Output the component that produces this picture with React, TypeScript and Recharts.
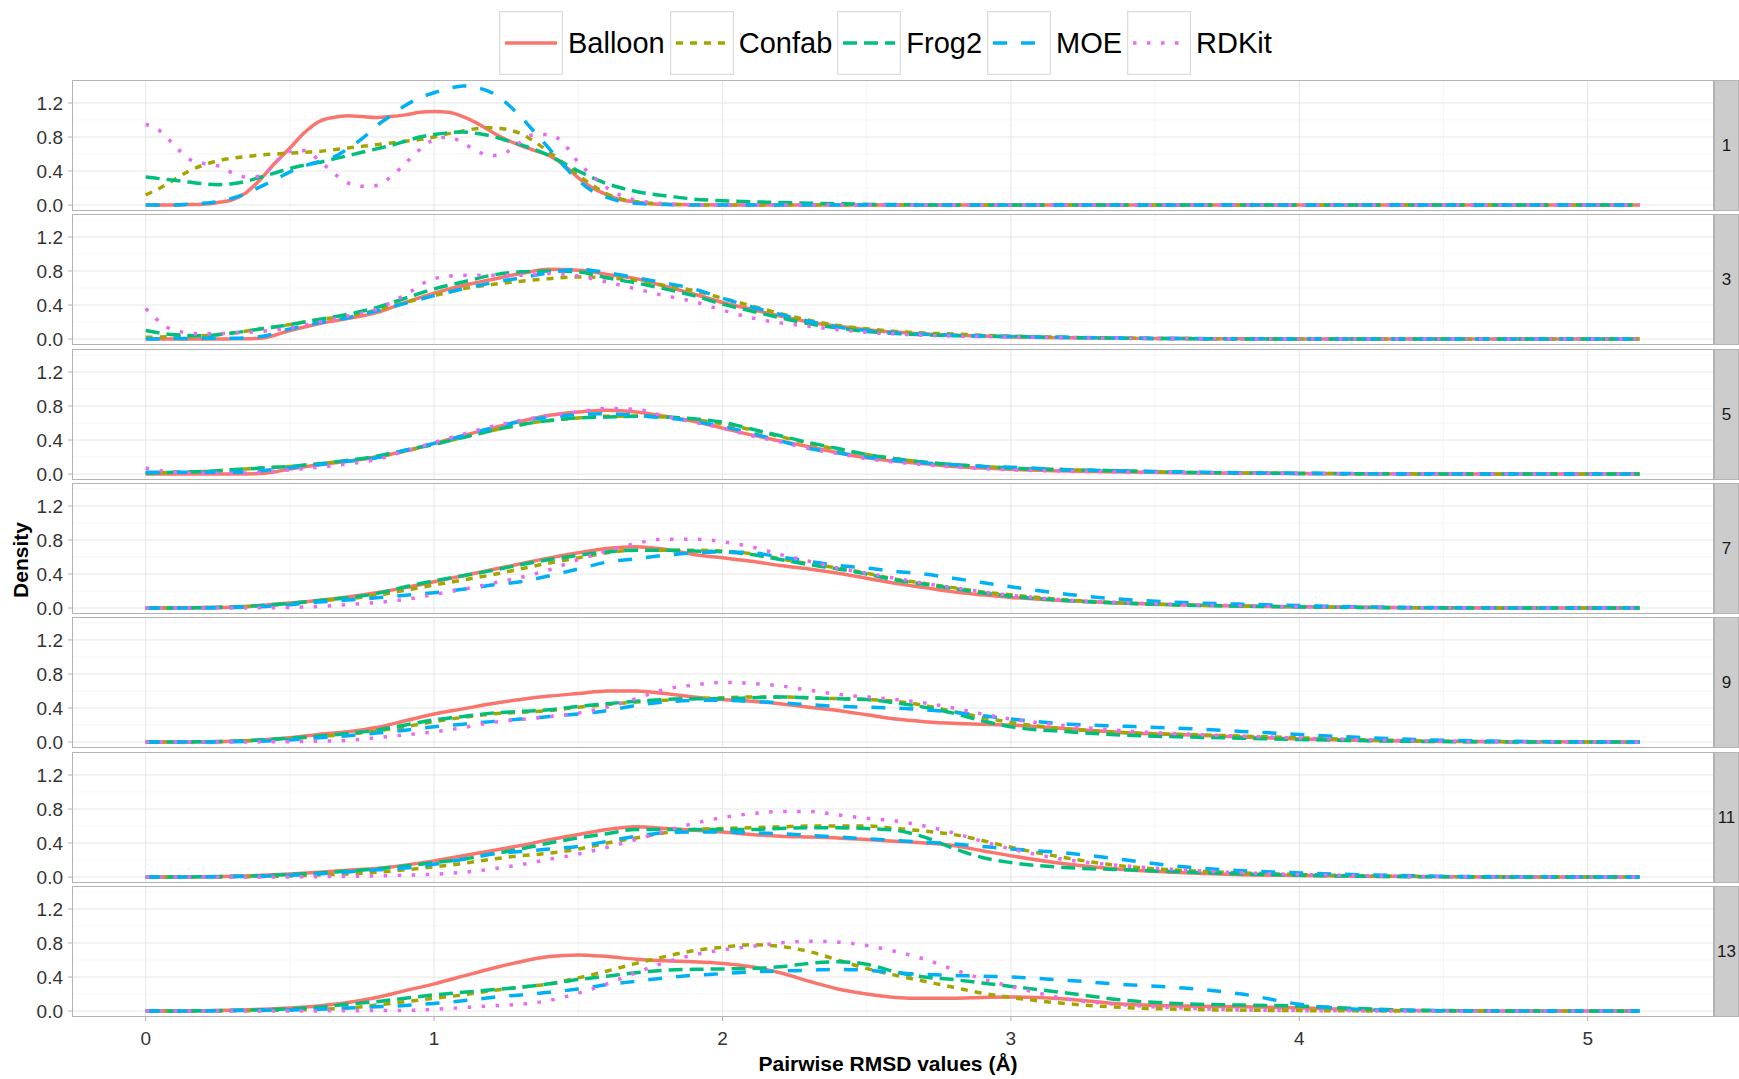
import React from "react";
import { LineChart, Line, XAxis, YAxis, CartesianGrid } from "recharts";

// ---------- DATA ----------
const seriesNames = ["Balloon", "Confab", "Frog2", "MOE", "RDKit"];
const facetLabels = ["1", "3", "5", "7", "9", "11", "13"];
const xTicks = [0, 1, 2, 3, 4, 5];
const yTicks = [0, 0.4, 0.8, 1.2];
const xMinor = [0.5, 1.5, 2.5, 3.5, 4.5];
const yMinor = [0.2, 0.6, 1.0, 1.4];
const xAxisTitle = "Pairwise RMSD values (Å)";
const yAxisTitle = "Density";

// x grid for facet "1" (finer)
const xFine = [
  0, 0.05, 0.1, 0.15, 0.2, 0.25, 0.3, 0.35, 0.4, 0.45, 0.5, 0.55, 0.6, 0.65, 0.7, 0.75, 0.8, 0.85, 0.9, 0.95,
  1.0, 1.05, 1.1, 1.15, 1.2, 1.25, 1.3, 1.35, 1.4, 1.45, 1.5, 1.55, 1.6, 1.65, 1.7, 1.75, 1.8,
  1.9, 2.0, 2.2, 2.4, 2.6, 2.8, 3.0, 4.0, 5.18,
];
// x grid for the other facets
const xCoarse = [
  0, 0.1, 0.2, 0.3, 0.4, 0.5, 0.6, 0.7, 0.8, 0.9, 1.0, 1.1, 1.2, 1.3, 1.4, 1.5, 1.6, 1.7, 1.8, 1.9,
  2.0, 2.1, 2.2, 2.3, 2.4, 2.5, 2.6, 2.7, 2.8, 2.9, 3.0,
  3.2, 3.4, 3.6, 3.8, 4.0, 4.2, 4.4, 4.7, 5.18,
];

// facet 1
const balloon1 = [0, 0, 0, 0.005, 0.01, 0.03, 0.06, 0.15, 0.31, 0.5, 0.67, 0.85, 0.98, 1.03, 1.05, 1.04, 1.03, 1.04, 1.06, 1.09, 1.1, 1.09, 1.04, 0.96, 0.86, 0.77, 0.7, 0.64, 0.58, 0.47, 0.32, 0.2, 0.12, 0.06, 0.035, 0.015, 0.008, 0.003, 0, 0, 0, 0, 0, 0, 0, 0];
const confab1 = [0.12, 0.2, 0.3, 0.4, 0.47, 0.52, 0.55, 0.57, 0.59, 0.6, 0.61, 0.62, 0.63, 0.65, 0.67, 0.69, 0.71, 0.73, 0.75, 0.77, 0.8, 0.84, 0.87, 0.9, 0.91, 0.89, 0.84, 0.74, 0.62, 0.49, 0.35, 0.23, 0.13, 0.07, 0.04, 0.02, 0.01, 0.003, 0, 0, 0, 0, 0, 0, 0, 0];
const frog1 = [0.33, 0.31, 0.29, 0.27, 0.25, 0.24, 0.25, 0.28, 0.33, 0.38, 0.43, 0.47, 0.5, 0.54, 0.58, 0.62, 0.66, 0.7, 0.75, 0.8, 0.83, 0.85, 0.86, 0.84, 0.81, 0.76, 0.71, 0.65, 0.58, 0.49, 0.4, 0.32, 0.25, 0.2, 0.16, 0.13, 0.11, 0.07, 0.05, 0.03, 0.015, 0.005, 0, 0, 0, 0];
const moe1 = [0, 0, 0, 0.01, 0.02, 0.04, 0.08, 0.14, 0.22, 0.3, 0.39, 0.46, 0.51, 0.56, 0.66, 0.78, 0.93, 1.05, 1.17, 1.26, 1.32, 1.37, 1.4, 1.38, 1.32, 1.2, 1.04, 0.85, 0.66, 0.46, 0.29, 0.16, 0.09, 0.04, 0.02, 0.01, 0.005, 0, 0, 0, 0, 0, 0, 0, 0, 0];
const rdkit1 = [0.95, 0.87, 0.7, 0.54, 0.49, 0.46, 0.38, 0.33, 0.34, 0.5, 0.63, 0.64, 0.53, 0.38, 0.26, 0.22, 0.23, 0.33, 0.49, 0.65, 0.77, 0.8, 0.73, 0.63, 0.58, 0.62, 0.74, 0.83, 0.83, 0.72, 0.5, 0.34, 0.2, 0.11, 0.06, 0.03, 0.015, 0.005, 0, 0, 0, 0, 0, 0, 0, 0];

// facet 3
const balloon3 = [0, 0, 0, 0.002, 0.01, 0.1, 0.18, 0.24, 0.31, 0.43, 0.54, 0.63, 0.7, 0.77, 0.82, 0.81, 0.76, 0.71, 0.62, 0.53, 0.43, 0.35, 0.27, 0.2, 0.15, 0.11, 0.08, 0.06, 0.045, 0.035, 0.025, 0.015, 0.01, 0.005, 0.003, 0.001, 0, 0, 0, 0];
const confab3 = [0.02, 0.03, 0.04, 0.07, 0.12, 0.17, 0.23, 0.27, 0.34, 0.43, 0.51, 0.59, 0.64, 0.68, 0.71, 0.73, 0.72, 0.69, 0.63, 0.57, 0.48, 0.39, 0.3, 0.22, 0.16, 0.12, 0.09, 0.07, 0.06, 0.045, 0.035, 0.02, 0.01, 0.006, 0.003, 0.001, 0, 0, 0, 0];
const frog3 = [0.1, 0.05, 0.04, 0.07, 0.12, 0.17, 0.23, 0.29, 0.37, 0.48, 0.59, 0.67, 0.75, 0.79, 0.8, 0.79, 0.72, 0.66, 0.59, 0.51, 0.41, 0.33, 0.25, 0.18, 0.13, 0.09, 0.065, 0.05, 0.04, 0.035, 0.03, 0.018, 0.01, 0.005, 0.002, 0.001, 0, 0, 0, 0];
const moe3 = [0, 0.005, 0.01, 0.01, 0.03, 0.12, 0.19, 0.25, 0.33, 0.42, 0.51, 0.59, 0.66, 0.72, 0.78, 0.82, 0.78, 0.72, 0.66, 0.59, 0.48, 0.38, 0.29, 0.21, 0.14, 0.1, 0.07, 0.055, 0.045, 0.035, 0.03, 0.02, 0.01, 0.006, 0.003, 0.001, 0, 0, 0, 0];
const rdkit3 = [0.36, 0.1, 0.06, 0.07, 0.09, 0.13, 0.2, 0.27, 0.35, 0.52, 0.71, 0.75, 0.75, 0.75, 0.77, 0.74, 0.67, 0.59, 0.51, 0.44, 0.34, 0.25, 0.19, 0.15, 0.11, 0.08, 0.06, 0.045, 0.035, 0.03, 0.025, 0.015, 0.008, 0.004, 0.002, 0.001, 0, 0, 0, 0];

// facet 5
const balloon5 = [0, 0, 0, 0, 0.005, 0.06, 0.11, 0.15, 0.2, 0.27, 0.36, 0.45, 0.54, 0.62, 0.69, 0.73, 0.75, 0.73, 0.68, 0.62, 0.54, 0.46, 0.39, 0.32, 0.25, 0.19, 0.15, 0.12, 0.09, 0.07, 0.055, 0.035, 0.025, 0.015, 0.01, 0.006, 0.003, 0.001, 0, 0];
const confab5 = [0.01, 0.02, 0.03, 0.05, 0.07, 0.09, 0.12, 0.16, 0.2, 0.27, 0.35, 0.43, 0.51, 0.58, 0.63, 0.66, 0.68, 0.68, 0.67, 0.64, 0.59, 0.52, 0.44, 0.36, 0.29, 0.23, 0.18, 0.14, 0.11, 0.09, 0.07, 0.05, 0.035, 0.02, 0.012, 0.007, 0.004, 0.002, 0.001, 0];
const frog5 = [0.01, 0.02, 0.03, 0.05, 0.07, 0.09, 0.12, 0.16, 0.21, 0.28, 0.35, 0.43, 0.51, 0.58, 0.63, 0.66, 0.67, 0.68, 0.67, 0.65, 0.61, 0.53, 0.45, 0.37, 0.3, 0.23, 0.18, 0.14, 0.11, 0.09, 0.07, 0.05, 0.035, 0.02, 0.012, 0.007, 0.004, 0.002, 0, 0];
const moe5 = [0.02, 0.02, 0.02, 0.02, 0.04, 0.075, 0.11, 0.15, 0.19, 0.28, 0.36, 0.45, 0.54, 0.62, 0.67, 0.7, 0.71, 0.69, 0.66, 0.62, 0.56, 0.48, 0.39, 0.3, 0.25, 0.2, 0.16, 0.13, 0.11, 0.09, 0.08, 0.05, 0.035, 0.025, 0.015, 0.01, 0.005, 0.003, 0.001, 0];
const rdkit5 = [0.07, 0.02, 0.01, 0.01, 0.02, 0.05, 0.08, 0.12, 0.17, 0.27, 0.37, 0.47, 0.56, 0.63, 0.69, 0.73, 0.77, 0.76, 0.68, 0.61, 0.54, 0.45, 0.38, 0.3, 0.24, 0.18, 0.14, 0.11, 0.085, 0.065, 0.05, 0.035, 0.025, 0.015, 0.01, 0.005, 0.003, 0.001, 0, 0];

// facet 7
const balloon7 = [0, 0, 0.005, 0.01, 0.03, 0.06, 0.09, 0.13, 0.18, 0.24, 0.31, 0.38, 0.45, 0.52, 0.59, 0.65, 0.7, 0.72, 0.69, 0.63, 0.59, 0.55, 0.5, 0.46, 0.41, 0.35, 0.29, 0.24, 0.19, 0.155, 0.125, 0.085, 0.055, 0.037, 0.024, 0.015, 0.008, 0.004, 0.001, 0];
const confab7 = [0, 0, 0.005, 0.01, 0.025, 0.05, 0.085, 0.11, 0.15, 0.21, 0.27, 0.33, 0.39, 0.46, 0.53, 0.59, 0.65, 0.68, 0.68, 0.68, 0.67, 0.64, 0.58, 0.52, 0.47, 0.41, 0.34, 0.29, 0.24, 0.19, 0.155, 0.095, 0.058, 0.037, 0.024, 0.015, 0.008, 0.004, 0.001, 0];
const frog7 = [0, 0, 0.005, 0.012, 0.03, 0.055, 0.09, 0.12, 0.17, 0.25, 0.32, 0.38, 0.44, 0.51, 0.57, 0.62, 0.66, 0.68, 0.68, 0.67, 0.66, 0.63, 0.57, 0.51, 0.46, 0.4, 0.33, 0.28, 0.23, 0.18, 0.14, 0.087, 0.055, 0.035, 0.022, 0.013, 0.007, 0.003, 0.001, 0];
const moe7 = [0, 0, 0, 0.005, 0.015, 0.04, 0.07, 0.095, 0.12, 0.15, 0.18, 0.22, 0.27, 0.31, 0.38, 0.46, 0.54, 0.58, 0.62, 0.65, 0.66, 0.65, 0.6, 0.55, 0.5, 0.47, 0.43, 0.4, 0.35, 0.3, 0.25, 0.16, 0.1, 0.065, 0.045, 0.03, 0.014, 0.007, 0.002, 0];
const rdkit7 = [0, 0, 0, 0, 0.003, 0.008, 0.018, 0.04, 0.065, 0.1, 0.16, 0.22, 0.29, 0.36, 0.45, 0.57, 0.67, 0.76, 0.81, 0.81, 0.78, 0.72, 0.63, 0.55, 0.47, 0.41, 0.35, 0.29, 0.24, 0.19, 0.15, 0.093, 0.062, 0.04, 0.027, 0.016, 0.008, 0.004, 0.001, 0];

// facet 9
const balloon9 = [0, 0, 0.003, 0.01, 0.025, 0.05, 0.09, 0.12, 0.17, 0.25, 0.33, 0.39, 0.45, 0.5, 0.54, 0.57, 0.6, 0.6, 0.57, 0.53, 0.5, 0.48, 0.45, 0.41, 0.37, 0.32, 0.27, 0.24, 0.22, 0.21, 0.2, 0.155, 0.11, 0.085, 0.06, 0.035, 0.02, 0.01, 0.003, 0];
const confab9 = [0, 0, 0.003, 0.008, 0.02, 0.04, 0.065, 0.09, 0.13, 0.18, 0.24, 0.29, 0.33, 0.35, 0.37, 0.41, 0.44, 0.47, 0.49, 0.51, 0.52, 0.53, 0.53, 0.52, 0.51, 0.5, 0.48, 0.43, 0.36, 0.29, 0.23, 0.15, 0.11, 0.09, 0.07, 0.05, 0.03, 0.015, 0.005, 0];
const frog9 = [0, 0, 0.004, 0.01, 0.025, 0.045, 0.07, 0.1, 0.14, 0.2, 0.26, 0.3, 0.34, 0.36, 0.38, 0.42, 0.45, 0.48, 0.5, 0.51, 0.51, 0.52, 0.53, 0.52, 0.51, 0.5, 0.46, 0.41, 0.34, 0.25, 0.18, 0.12, 0.08, 0.06, 0.045, 0.03, 0.017, 0.008, 0.002, 0];
const moe9 = [0, 0, 0, 0.003, 0.01, 0.025, 0.05, 0.075, 0.105, 0.14, 0.18, 0.21, 0.24, 0.27, 0.3, 0.33, 0.37, 0.43, 0.47, 0.49, 0.49, 0.48, 0.46, 0.44, 0.42, 0.41, 0.4, 0.38, 0.35, 0.31, 0.27, 0.21, 0.185, 0.16, 0.125, 0.09, 0.055, 0.03, 0.01, 0];
const rdkit9 = [0, 0, 0, 0, 0.002, 0.005, 0.01, 0.02, 0.05, 0.085, 0.12, 0.17, 0.23, 0.265, 0.3, 0.34, 0.41, 0.51, 0.62, 0.67, 0.7, 0.69, 0.66, 0.61, 0.56, 0.53, 0.5, 0.46, 0.4, 0.33, 0.27, 0.19, 0.13, 0.095, 0.07, 0.047, 0.03, 0.015, 0.005, 0];

// facet 11
const balloon11 = [0, 0, 0.003, 0.008, 0.02, 0.035, 0.055, 0.08, 0.1, 0.14, 0.19, 0.25, 0.31, 0.37, 0.44, 0.5, 0.56, 0.59, 0.57, 0.55, 0.53, 0.5, 0.48, 0.47, 0.46, 0.44, 0.42, 0.4, 0.37, 0.31, 0.25, 0.15, 0.085, 0.05, 0.028, 0.018, 0.01, 0.005, 0.001, 0];
const confab11 = [0, 0, 0, 0.002, 0.005, 0.012, 0.025, 0.037, 0.055, 0.085, 0.12, 0.16, 0.21, 0.25, 0.28, 0.33, 0.4, 0.46, 0.52, 0.56, 0.57, 0.58, 0.59, 0.6, 0.6, 0.6, 0.57, 0.54, 0.5, 0.43, 0.35, 0.22, 0.125, 0.077, 0.05, 0.03, 0.016, 0.008, 0.002, 0];
const frog11 = [0, 0, 0.003, 0.008, 0.015, 0.03, 0.048, 0.07, 0.095, 0.13, 0.17, 0.21, 0.27, 0.33, 0.4, 0.46, 0.51, 0.56, 0.56, 0.56, 0.56, 0.56, 0.57, 0.58, 0.58, 0.57, 0.55, 0.47, 0.34, 0.23, 0.17, 0.11, 0.085, 0.06, 0.037, 0.02, 0.01, 0.004, 0.001, 0];
const moe11 = [0, 0, 0.002, 0.005, 0.01, 0.02, 0.037, 0.06, 0.085, 0.105, 0.15, 0.21, 0.27, 0.3, 0.33, 0.36, 0.42, 0.48, 0.52, 0.53, 0.53, 0.52, 0.51, 0.49, 0.47, 0.45, 0.43, 0.41, 0.39, 0.36, 0.33, 0.28, 0.2, 0.12, 0.075, 0.048, 0.028, 0.014, 0.004, 0];
const rdkit11 = [0, 0, 0, 0, 0, 0.002, 0.004, 0.008, 0.014, 0.022, 0.033, 0.055, 0.094, 0.145, 0.21, 0.27, 0.35, 0.44, 0.54, 0.63, 0.7, 0.745, 0.77, 0.77, 0.73, 0.69, 0.66, 0.6, 0.52, 0.42, 0.33, 0.2, 0.13, 0.083, 0.05, 0.03, 0.018, 0.008, 0.002, 0];

// facet 13
const balloon13 = [0, 0, 0.003, 0.01, 0.02, 0.035, 0.06, 0.1, 0.16, 0.24, 0.32, 0.41, 0.5, 0.58, 0.64, 0.66, 0.64, 0.61, 0.59, 0.58, 0.56, 0.52, 0.45, 0.35, 0.26, 0.2, 0.16, 0.15, 0.15, 0.16, 0.165, 0.14, 0.08, 0.06, 0.05, 0.04, 0.015, 0.005, 0.001, 0];
const confab13 = [0, 0, 0, 0.003, 0.006, 0.012, 0.02, 0.035, 0.07, 0.11, 0.15, 0.19, 0.24, 0.28, 0.32, 0.39, 0.47, 0.56, 0.64, 0.71, 0.75, 0.78, 0.76, 0.7, 0.6, 0.5, 0.42, 0.35, 0.28, 0.21, 0.16, 0.085, 0.04, 0.02, 0.01, 0.005, 0.002, 0.001, 0, 0];
const frog13 = [0, 0, 0.003, 0.008, 0.015, 0.025, 0.045, 0.08, 0.11, 0.15, 0.19, 0.22, 0.25, 0.28, 0.32, 0.37, 0.41, 0.45, 0.48, 0.49, 0.495, 0.5, 0.52, 0.56, 0.58, 0.55, 0.46, 0.4, 0.37, 0.33, 0.29, 0.21, 0.125, 0.085, 0.07, 0.058, 0.03, 0.01, 0.002, 0];
const moe13 = [0, 0, 0.002, 0.005, 0.008, 0.013, 0.02, 0.035, 0.05, 0.065, 0.09, 0.12, 0.16, 0.19, 0.22, 0.26, 0.31, 0.35, 0.39, 0.42, 0.44, 0.46, 0.47, 0.48, 0.49, 0.48, 0.45, 0.43, 0.42, 0.41, 0.4, 0.36, 0.31, 0.27, 0.2, 0.08, 0.02, 0.006, 0.001, 0];
const rdkit13 = [0, 0, 0, 0, 0, 0.001, 0.002, 0.004, 0.006, 0.008, 0.02, 0.04, 0.06, 0.08, 0.125, 0.21, 0.32, 0.45, 0.57, 0.66, 0.72, 0.76, 0.8, 0.82, 0.81, 0.77, 0.7, 0.61, 0.49, 0.38, 0.29, 0.14, 0.07, 0.035, 0.013, 0.005, 0.002, 0, 0, 0];

const panelX = [xFine, xCoarse, xCoarse, xCoarse, xCoarse, xCoarse, xCoarse];
const panelValues = [
  [balloon1, confab1, frog1, moe1, rdkit1],
  [balloon3, confab3, frog3, moe3, rdkit3],
  [balloon5, confab5, frog5, moe5, rdkit5],
  [balloon7, confab7, frog7, moe7, rdkit7],
  [balloon9, confab9, frog9, moe9, rdkit9],
  [balloon11, confab11, frog11, moe11, rdkit11],
  [balloon13, confab13, frog13, moe13, rdkit13],
];

// ---------- STYLE / LAYOUT ----------
const COLORS = ["#F8766D", "#A3A500", "#00BF7D", "#00B0F6", "#E76BF3"];
const DASHES = [undefined, "7 7", "14 7", "14 14", "3.5 10.5"];
const LINE_W = 3.5;
const FONT = "'Liberation Sans', Arial, Helvetica, sans-serif";

const CHART_W = 1714;
const PLOT_LEFT = 72;
const PANEL_H = 131;
const PANEL_TOP0 = 80;
const PANEL_STEP = 134.3;
const STRIP_W = 25;
const XAXIS_H = 45;
const X_DOMAIN: [number, number] = [-0.2556, 5.438];
const Y_DOMAIN: [number, number] = [-0.07, 1.47];

function buildRows(k: number) {
  const xs = panelX[k];
  const vals = panelValues[k];
  return xs.map((x, i) => {
    const row: Record<string, number> = { x };
    seriesNames.forEach((name, s) => {
      row[name] = vals[s][i];
    });
    return row;
  });
}

function Panel({ k }: { k: number }) {
  const isLast = k === facetLabels.length - 1;
  const top = Math.round(PANEL_TOP0 + k * PANEL_STEP);
  const h = isLast ? PANEL_H + XAXIS_H : PANEL_H;
  const rows = buildRows(k);
  return (
    <div style={{ position: "absolute", left: 0, top, width: CHART_W + STRIP_W, height: h, zIndex: 10 - k }}>
      <LineChart width={CHART_W} height={h} data={rows} margin={{ top: 0, right: 0, bottom: 0, left: 0 }}>
        <CartesianGrid stroke="#F3F3F3" strokeWidth={0.8} horizontalValues={yMinor} verticalValues={xMinor} />
        <CartesianGrid stroke="#E6E6E6" strokeWidth={1} horizontalValues={yTicks} verticalValues={xTicks} />
        <XAxis
          type="number"
          dataKey="x"
          domain={X_DOMAIN}
          ticks={xTicks}
          allowDataOverflow
          hide={!isLast}
          height={XAXIS_H}
          axisLine={false}
          tickLine={{ stroke: "#B3B3B3" }}
          tickSize={4}
          tickMargin={11}
          tick={{ fontSize: 19, fill: "#333333", fontFamily: FONT }}
          interval={0}
        />
        <YAxis
          type="number"
          domain={Y_DOMAIN}
          ticks={yTicks}
          allowDataOverflow
          width={PLOT_LEFT}
          axisLine={false}
          tickLine={{ stroke: "#B3B3B3" }}
          tickSize={4}
          tickMargin={5}
          tick={{ fontSize: 19, fill: "#333333", fontFamily: FONT }}
          tickFormatter={(v: number) => v.toFixed(1)}
          interval={0}
        />
        {seriesNames.map((name, s) => (
          <Line
            key={name}
            type="monotone"
            dataKey={name}
            stroke={COLORS[s]}
            strokeWidth={LINE_W}
            strokeDasharray={DASHES[s]}
            dot={false}
            activeDot={false}
            isAnimationActive={false}
            strokeLinejoin="round"
          />
        ))}
      </LineChart>
      <div
        style={{
          position: "absolute",
          left: PLOT_LEFT,
          top: 0,
          width: CHART_W - PLOT_LEFT,
          height: PANEL_H,
          border: "1px solid #B3B3B3",
          boxSizing: "border-box",
          pointerEvents: "none",
        }}
      />
      <div
        style={{
          position: "absolute",
          left: CHART_W,
          top: 0,
          width: STRIP_W,
          height: PANEL_H,
          background: "#CCCCCC",
          border: "1px solid #B3B3B3",
          boxSizing: "border-box",
          display: "flex",
          alignItems: "center",
          justifyContent: "center",
          fontFamily: FONT,
          fontSize: 17,
          color: "#1A1A1A",
        }}
      >
        {facetLabels[k]}
      </div>
    </div>
  );
}

function LegendKey({ s }: { s: number }) {
  return (
    <svg width={64} height={64} style={{ display: "block" }}>
      <rect x={0.5} y={0.5} width={63} height={63} fill="#FFFFFF" stroke="#DCDCDC" strokeWidth={1.5} />
      <line
        x1={6}
        y1={32}
        x2={58}
        y2={32}
        stroke={COLORS[s]}
        strokeWidth={LINE_W}
        strokeDasharray={DASHES[s]}
      />
    </svg>
  );
}

export default function App() {
  return (
    <div
      style={{
        position: "absolute",
        left: 0,
        top: 0,
        width: 1739,
        height: 1079,
        background: "#FFFFFF",
        overflow: "hidden",
        fontFamily: FONT,
      }}
    >
      <style>{`.recharts-wrapper, .recharts-surface { overflow: visible !important; }`}</style>
      {/* legend */}
      <div style={{ position: "absolute", left: 499, top: 11, display: "flex", alignItems: "center", height: 64 }}>
        {seriesNames.map((name, s) => (
          <div key={name} style={{ display: "flex", alignItems: "center" }}>
            <LegendKey s={s} />
            <span style={{ fontSize: 29, color: "#000", marginLeft: 5, marginRight: 5, lineHeight: "64px", whiteSpace: "nowrap" }}>
              {name}
            </span>
          </div>
        ))}
      </div>

      {facetLabels.map((_, k) => (
        <Panel key={k} k={k} />
      ))}

      <svg width={1739} height={1079} style={{ position: "absolute", left: 0, top: 0, pointerEvents: "none", zIndex: 20 }}>
        <text
          transform="translate(27.5,560) rotate(-90)"
          textAnchor="middle"
          fontFamily={FONT}
          fontWeight="bold"
          fontSize={21}
          fill="#000"
        >
          {yAxisTitle}
        </text>
        <text x={888} y={1071} textAnchor="middle" fontFamily={FONT} fontWeight="bold" fontSize={21} fill="#000">
          {xAxisTitle}
        </text>
      </svg>
    </div>
  );
}
